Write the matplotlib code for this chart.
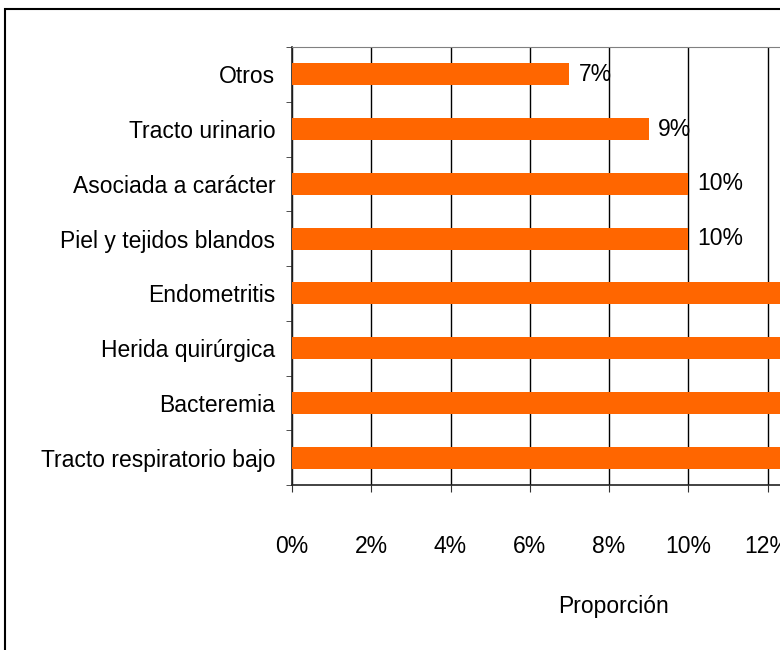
import matplotlib.pyplot as plt
import matplotlib.patches as mpatches
import numpy as np

plt.rcParams['font.family'] = ['Liberation Sans', 'DejaVu Sans']

categorias = ['Tracto respiratorio bajo', 'Bacteremia', 'Herida quirúrgica', 'Endometritis',
              'Piel y tejidos blandos', 'Asociada a carácter', 'Tracto urinario', 'Otros']
# los cuatro primeros salen del recorte; valores estimados
proporcion = [0.17, 0.15, 0.14, 0.13, 0.10, 0.10, 0.09, 0.07]
etiquetas = ['17%', '15%', '14%', '13%', '10%', '10%', '9%', '7%']
ticks_x = [0, 0.02, 0.04, 0.06, 0.08, 0.10, 0.12, 0.14, 0.16]

naranja = '#FF6600'
fs = 16.5

fig = plt.figure(figsize=(7.8, 6.5), dpi=100)
fig.patches.append(mpatches.Rectangle((5 / 780, -0.1), 1.2, 1 - 9 / 650 + 0.1,
                                      transform=fig.transFigure, fill=False,
                                      edgecolor='black', linewidth=1.5))

ax = fig.add_axes([292 / 780, 165 / 650, 634 / 780, 438 / 650])
y = np.arange(len(categorias))
ax.barh(y, proporcion, height=0.4, color=naranja, zorder=3)
for yi, v, t in zip(y, proporcion, etiquetas):
    ax.annotate(t, (v, yi), xytext=(9, 0), textcoords='offset pixels',
                va='center', ha='left', fontsize=fs, zorder=4)

ax.set_xlim(0, 0.16)
ax.set_ylim(-0.5, len(categorias) - 0.5)
ax.set_xticks(ticks_x)
ax.set_xticklabels([f'{int(round(t * 100))}%' for t in ticks_x], fontsize=fs)
ax.set_yticks(y)
ax.set_yticklabels(categorias, fontsize=fs)
ax.set_yticks(np.arange(-0.5, len(categorias)), minor=True)
ax.tick_params(axis='y', which='major', length=0, pad=12)
ax.tick_params(axis='y', which='minor', length=4, direction='out', color='#333333')
ax.tick_params(axis='x', length=5, direction='out', pad=31, color='#333333')
ax.xaxis.grid(True, color='black', linewidth=1, zorder=1)
ax.set_axisbelow(True)
for s in ['left', 'bottom']:
    ax.spines[s].set_color('#222222')
    ax.spines[s].set_linewidth(1.2)
ax.spines['top'].set_color('#808080')
ax.spines['right'].set_color('#808080')

fig.text(614 / 780, 1 - 606 / 650, 'Proporción', ha='center', va='center', fontsize=fs)

fig.savefig('out.png', dpi=100)
